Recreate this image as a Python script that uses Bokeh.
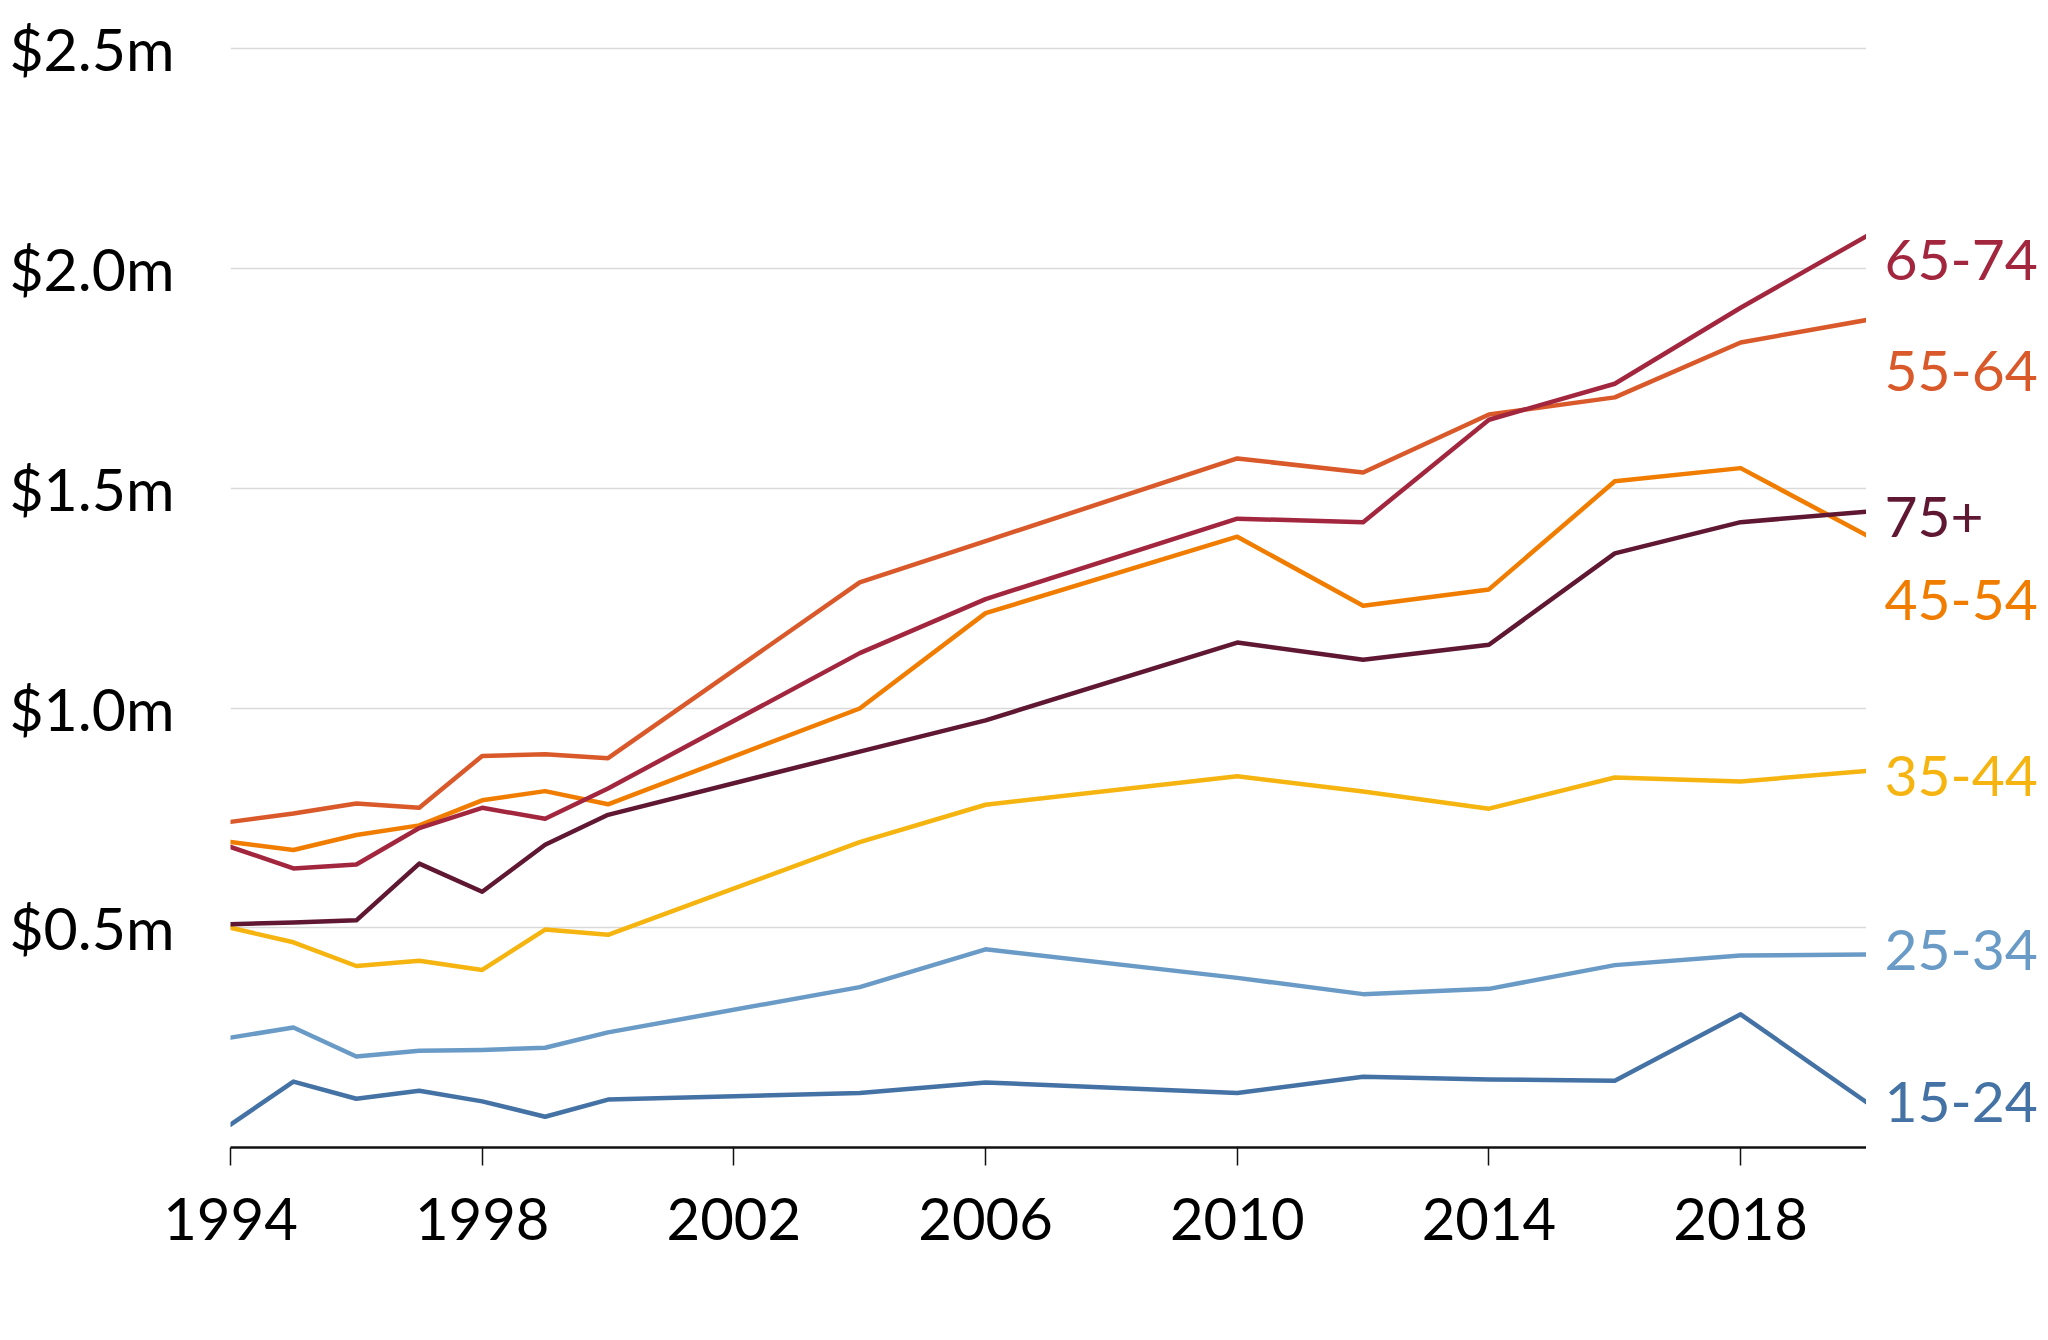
from bokeh.plotting import figure
from bokeh.models import Range1d, FixedTicker, ColumnDataSource
from bokeh.layouts import row
from bokeh.core.properties import value
from bokeh.embed import file_html
from bokeh.resources import INLINE

years = [1994, 1995, 1996, 1997, 1998, 1999, 2000, 2004, 2006, 2010, 2012, 2014, 2016, 2018, 2020]

age_15_24 = [0.052, 0.150, 0.111, 0.129, 0.105, 0.070, 0.109, 0.124, 0.148, 0.124, 0.161, 0.155, 0.152, 0.303, 0.103]
age_25_34 = [0.250, 0.273, 0.207, 0.220, 0.222, 0.227, 0.262, 0.365, 0.451, 0.386, 0.349, 0.361, 0.415, 0.437, 0.439]
age_35_44 = [0.500, 0.467, 0.413, 0.425, 0.404, 0.496, 0.484, 0.695, 0.780, 0.845, 0.810, 0.771, 0.842, 0.833, 0.857]
age_45_54 = [0.695, 0.677, 0.711, 0.733, 0.790, 0.811, 0.781, 0.999, 1.216, 1.390, 1.233, 1.270, 1.516, 1.546, 1.393]
age_55_64 = [0.741, 0.760, 0.783, 0.773, 0.891, 0.895, 0.886, 1.286, 1.380, 1.568, 1.536, 1.668, 1.707, 1.832, 1.883]
age_65_74 = [0.684, 0.635, 0.644, 0.727, 0.773, 0.748, 0.817, 1.125, 1.248, 1.431, 1.423, 1.656, 1.738, 1.911, 2.074]
age_75_plus = [0.508, 0.512, 0.517, 0.646, 0.582, 0.689, 0.757, 0.901, 0.972, 1.149, 1.110, 1.144, 1.352, 1.423, 1.447]

series_names = ["15-24", "25-34", "35-44", "45-54", "55-64", "65-74", "75+"]
series_values = [age_15_24, age_25_34, age_35_44, age_45_54, age_55_64, age_65_74, age_75_plus]
series_colors = ["#4472A5", "#6A9BC7", "#F5B40F", "#F07D00", "#D9592A", "#A3263F", "#5F1732"]
label_y = [0.104, 0.450, 0.846, 1.247, 1.767, 2.020, 1.435]

x_ticks = [1994, 1998, 2002, 2006, 2010, 2014, 2018]
y_ticks = [0.5, 1.0, 1.5, 2.0, 2.5]
y_tick_labels = ["$0.5m", "$1.0m", "$1.5m", "$2.0m", "$2.5m"]

FONT = "Lato"
H = 1324
TOP = 44
BOTTOM = 177

yr = Range1d(0, 2.51)

p = figure(width=1866, height=H, output_backend="svg", toolbar_location=None,
           x_range=Range1d(1994, 2020), y_range=yr,
           min_border_left=230, min_border_right=0, min_border_top=TOP, min_border_bottom=BOTTOM)
p.outline_line_color = None
p.background_fill_color = "white"
p.border_fill_color = "white"

p.xgrid.grid_line_color = None
p.ygrid.grid_line_color = "#d9d9d9"
p.ygrid.grid_line_width = 1.5
p.ygrid.ticker = FixedTicker(ticks=y_ticks)

p.yaxis.ticker = FixedTicker(ticks=y_ticks)
p.yaxis.major_label_overrides = dict(zip(y_ticks, y_tick_labels))
p.yaxis.axis_line_color = None
p.yaxis.major_tick_line_color = None
p.yaxis.minor_tick_line_color = None
p.yaxis.major_label_text_font = FONT
p.yaxis.major_label_text_font_size = "59px"
p.yaxis.major_label_text_color = "black"
p.yaxis.major_label_standoff = 50

p.xaxis.ticker = FixedTicker(ticks=x_ticks)
p.xaxis.axis_line_color = "#111111"
p.xaxis.axis_line_width = 2.5
p.xaxis.major_tick_line_color = "#111111"
p.xaxis.major_tick_line_width = 1.5
p.xaxis.major_tick_in = 0
p.xaxis.major_tick_out = 18
p.xaxis.minor_tick_line_color = None
p.xaxis.major_label_text_font = FONT
p.xaxis.major_label_text_font_size = "58px"
p.xaxis.major_label_text_color = "black"
p.xaxis.major_label_standoff = 32

for name, vals, col in zip(series_names, series_values, series_colors):
    p.line(years, vals, line_color=col, line_width=4.5, line_join="round", line_cap="round")

# label strip on the right, sharing the y scale
q = figure(width=174, height=H, output_backend="svg", toolbar_location=None,
           x_range=Range1d(0, 1), y_range=yr,
           min_border_left=0, min_border_right=0, min_border_top=TOP, min_border_bottom=BOTTOM)
q.axis.visible = False
q.grid.visible = False
q.outline_line_color = None
src = ColumnDataSource(dict(x=[0] * len(series_names), y=label_y, t=series_names, c=series_colors))
q.text(x="x", y="y", text="t", text_color="c", source=src, x_offset=18,
       text_font=value(FONT), text_font_size="57px", text_align="left", text_baseline="middle")

open("out.html", "w").write(file_html(row(p, q), INLINE))
